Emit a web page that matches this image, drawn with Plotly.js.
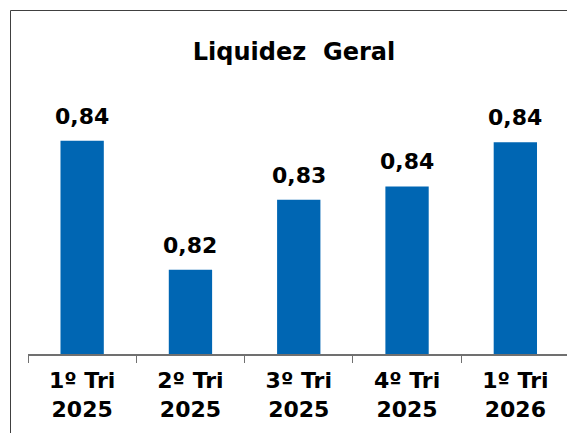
<!DOCTYPE html>
<html>
<head>
<meta charset="utf-8">
<script src="https://cdn.plot.ly/plotly-3.0.1.min.js"></script>
<style>
html,body{margin:0;padding:0;background:#fff;}
#chart{width:567px;height:433px;}
</style>
</head>
<body>
<div id="chart"></div>
<script>
const quarters = ["1º Tri", "2º Tri", "3º Tri", "4º Tri", "1º Tri"];
const years = ["2025", "2025", "2025", "2025", "2026"];
const liquidez = [0.8448, 0.8177, 0.8324, 0.8352, 0.8445];
const chartTitle = "Liquidez  Geral";

const categories = quarters.map((q, i) => q + "<br>" + years[i]);
const fmt = v => v.toFixed(2).replace(".", ",");
const FONT = "Verdana, 'DejaVu Sans', sans-serif";

const L = 28, T = 116, B = 79, W = 567, H = 433;
const pw = W - L, ph = H - T - B;

const trace = {
  type: "bar",
  x: categories,
  y: liquidez,
  width: 0.4,
  marker: {color: "#0066B3", line: {width: 0}},
  hoverinfo: "skip"
};

const annotations = categories.map((c, i) => ({
  x: c, y: liquidez[i], xref: "x", yref: "y",
  text: fmt(liquidez[i]), showarrow: false,
  yanchor: "bottom", yshift: 10,
  font: {family: FONT, size: 22, color: "#000", weight: "bold"}
}));

const layout = {
  width: W, height: H,
  margin: {l: L, r: 0, t: T, b: B, pad: 0},
  paper_bgcolor: "#fff", plot_bgcolor: "#fff",
  showlegend: false,
  title: {
    text: chartTitle,
    font: {family: FONT, size: 24, color: "#000", weight: "bold"},
    x: 294 / W, xanchor: "center",
    y: 1 - 43 / H, yanchor: "top", yref: "container"
  },
  xaxis: {
    type: "category",
    range: [-0.5, 4.5 - (541.5 - pw) / 108.3],
    showline: true, linecolor: "#707070", linewidth: 1.5,
    ticks: "outside", ticklen: 7, tickcolor: "#707070", tickwidth: 1,
    tickson: "boundaries",
    showgrid: false, zeroline: false,
    tickfont: {family: FONT, size: 22, color: "#000", weight: "bold"},
    ticklabelstandoff: 6
  },
  yaxis: {
    range: [0.80, 0.85],
    visible: false, showgrid: false, zeroline: false
  },
  annotations: annotations,
  shapes: [{
    type: "rect", xref: "paper", yref: "paper",
    x0: (10.5 - L) / pw, x1: (620 - L) / pw,
    y0: -(500 - (H - B)) / ph, y1: ((H - B) - 10.5) / ph,
    line: {color: "#404040", width: 1}, fillcolor: "rgba(0,0,0,0)"
  }]
};

Plotly.newPlot("chart", [trace], layout, {displayModeBar: false, staticPlot: true});
</script>
</body>
</html>
